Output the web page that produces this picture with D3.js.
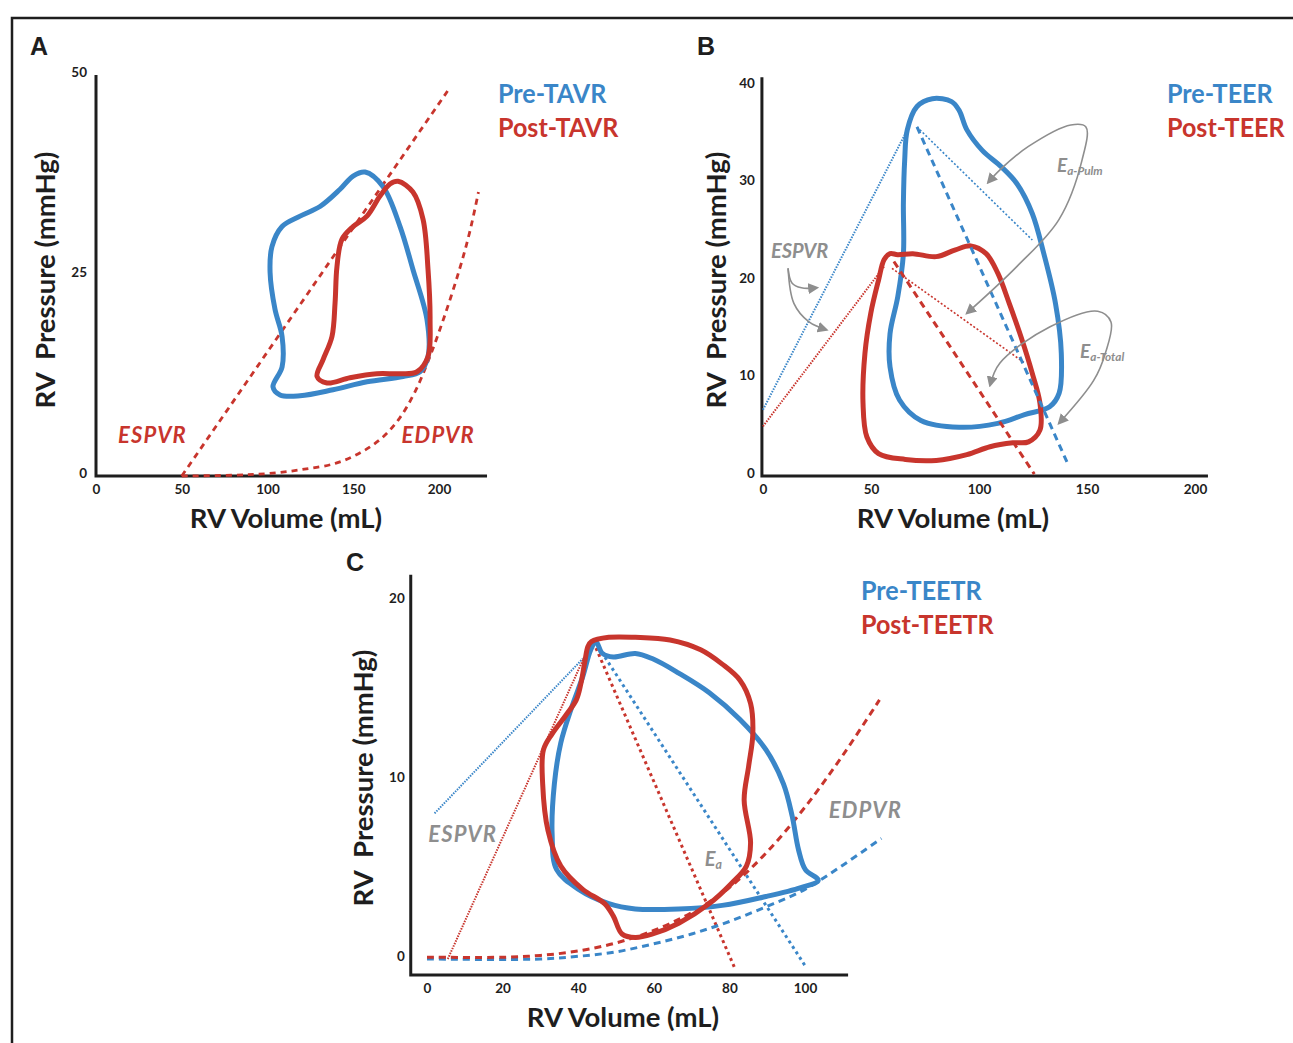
<!DOCTYPE html>
<html>
<head>
<meta charset="utf-8">
<script src="https://cdn.jsdelivr.net/npm/d3@7"></script>
<style>
  body { margin: 0; background: #fff; }
  svg text { font-family: Lato, "Open Sans", sans-serif; }
</style>
</head>
<body>
<svg id="fig"></svg>
<script>
const w = 1293, h = 1043;
const blue = '#3a86c8', red = '#c8352d', gray = '#8e8e8e', ink = '#1e1e1e';

// ---------- panel A : TAVR ----------
const aTicksX = [0, 50, 100, 150, 200];
const aTicksY = [0, 25, 50];
const aLegend = ['Pre-TAVR', 'Post-TAVR'];
const aPre = [[156.9,37.9],[167.3,36.1],[177.3,31.1],[184.8,25.75],[193.0,19.5],[193.6,14.9],[188.9,13.0],[179.0,12.4],
  [158.0,11.75],[138.2,10.75],[119.0,10.0],[107.3,10.1],[103.2,11.1],[108.5,13.6],[108.5,17.4],[104.4,20.75],
  [101.5,25.4],[102.6,28.6],[108.5,31.1],[119.0,32.4],[130.6,33.6],[142.3,35.75],[149.9,37.4]];
const aPost = [[176.1,36.75],[184.8,35.4],[190.7,32.0],[193.6,25.75],[194.8,19.5],[193.6,14.9],[187.2,13.0],[177.3,12.75],
  [163.8,12.75],[148.1,12.25],[134.7,11.6],[128.9,12.4],[132.4,14.5],[137.6,17.4],[139.4,21.6],[140.5,26.1],
  [143.4,29.5],[149.9,31.1],[158.0,32.4],[165.6,34.9],[171.4,36.4]];
const aEspvr = [[50,0],[205,48]];
const aEdpvr = [[50,0],[80,0.1],[100,0.3],[120,0.8],[140,1.6],[155,3.0],[167,4.8],[177,7.2],[186,10.5],[194,14.5],[203,19.8],[212,25.8],[218,30.5],[223,35.4]];

// ---------- panel B : TEER ----------
const bTicksX = [0, 50, 100, 150, 200];
const bTicksY = [0, 10, 20, 30, 40];
const bLegend = ['Pre-TEER', 'Post-TEER'];
const bPre = [[66.8,35.5],[71.3,37.9],[78.4,38.7],[87.3,38.4],[90.8,37.5],[94.4,35.5],[101.5,33.4],[110.4,31.7],
  [117.5,30.0],[124.7,26.9],[130.0,22.8],[135.4,17.7],[138.1,12.6],[137.1,8.5],[132.7,7.1],[121.1,6.3],
  [108.7,5.4],[90.8,5.0],[73.1,5.7],[63.2,7.8],[58.8,11.2],[58.8,14.6],[62.4,18.4],[65.0,22.8],[65.0,28.0],[65.6,32.4]];
const bPost = [[58.8,22.8],[62.4,22.7],[69.4,22.8],[80.2,22.5],[89.1,23.2],[96.2,23.6],[103.3,22.8],[108.7,20.8],
  [114.0,17.7],[119.4,14.3],[124.7,10.5],[128.2,7.5],[128.2,4.7],[122.9,3.5],[115.7,3.4],[105.1,3.0],
  [94.4,2.2],[80.2,1.6],[65.9,1.7],[53.5,2.3],[48.1,4.0],[46.3,7.5],[47.2,12.6],[49.9,16.7],[53.5,20.1],[56.1,22.2]];
const bPreEspvr = [[0,6.8],[66.8,35.5]];
const bPostEspvr = [[0,5.1],[56.1,21.5]];
const bPreEaTotal = [[71.3,35.8],[141.6,1.0]];
const bPreEaPulm = [[71.3,35.8],[124.7,24.2]];
const bPostEaTotal = [[60.6,22.0],[125.6,0.2]];
const bPostEaPulm = [[59.7,21.3],[121.1,11.6]];
const bEspvrArrows = [
  [[11.6,21.3],[13.4,19.8],[17.8,19.3],[25.0,19.3]],
  [[11.6,21.3],[14.3,17.7],[21.3,15.8],[29.4,15.0]]
];
const bPulmArc = [[104.2,30.1],[109.7,31.4],[122.9,33.8],[142.5,36.0],[149.5,35.8],[147.7,32.4],[137.0,26.3],[117.6,21.5],[94.4,16.7]];
const bTotalArc = [[105.1,9.3],[109.7,11.6],[132.9,15.3],[155.0,16.9],[161.1,15.8],[158.5,12.6],[153.1,9.8],[137.0,5.4]];

// ---------- panel C : TEETR ----------
const cTicksX = [0, 20, 40, 60, 80, 100];
const cTicksY = [0, 10, 20];
const cLegend = ['Pre-TEETR', 'Post-TEETR'];
const cPre = [[44.7,17.76],[46.4,17.1],[49.3,16.9],[55.1,17.1],[59.7,16.8],[66.6,16.0],[74.7,14.9],[82.8,13.4],
  [89.7,11.7],[94.3,9.8],[96.6,8.0],[98.3,6.1],[100.1,5.0],[103.5,4.4],[98.9,4.0],[89.7,3.5],[78.1,3.0],
  [66.6,2.8],[55.1,2.8],[48.1,3.1],[40.1,3.9],[34.3,5.0],[33.1,7.0],[33.7,9.8],[35.4,12.1],[38.3,14.1],[41.2,15.8],[43.3,17.3]];
const cPost = [[43.5,17.76],[48.1,18.0],[55.1,18.0],[64.3,17.85],[72.4,17.3],[78.1,16.5],[82.8,15.6],[85.6,14.3],
  [86.2,12.6],[85.1,10.8],[83.9,8.9],[85.6,6.5],[84.5,5.2],[80.4,4.2],[74.7,3.1],[66.6,2.0],[59.7,1.4],
  [55.1,1.2],[51.6,1.4],[49.3,2.4],[47.0,3.1],[41.2,3.9],[35.4,5.2],[32.0,7.2],[30.6,9.8],[30.8,11.7],
  [33.1,12.6],[36.6,13.6],[39.5,14.5],[40.7,15.4],[41.8,16.7],[42.6,17.5]];
const cPreEspvr = [[2.0,8.15],[41.2,16.8]];
const cPostEspvr = [[5.5,0.0],[41.6,16.9]];
const cPreEa = [[45.2,17.5],[100.1,-0.4]];
const cPostEa = [[44.7,17.4],[81.6,-0.6]];
const cPostEdpvr = [[0,0.1],[20,0.1],[30,0.2],[40,0.45],[50,0.9],[60,1.6],[70,2.6],[80,4.0],[90,6.0],[100,8.5],[110,11.4],[119.7,14.5]];
const cPreEdpvr = [[0,0],[30,0],[40,0.15],[50,0.4],[60,0.85],[70,1.4],[80,2.1],[90,2.95],[100,3.9],[110,5.25],[120.2,6.75]];

const svg = d3.select('#fig').attr('width', w).attr('height', h);

// arrow head for the grey notes
svg.append('defs').append('marker')
  .attr('id', 'head')
  .attr('viewBox', '0 0 10 10')
  .attr('refX', 8).attr('refY', 5)
  .attr('markerWidth', 11).attr('markerHeight', 11)
  .attr('markerUnits', 'userSpaceOnUse')
  .attr('orient', 'auto-start-reverse')
  .append('path')
  .attr('d', 'M0,0 L10,5 L0,10 Z')
  .attr('fill', gray);

// figure frame
svg.append('path')
  .attr('d', `M12,${h} L12,18 L${w},18`)
  .attr('fill', 'none')
  .attr('stroke', ink)
  .attr('stroke-width', 2.5);

function makePanel(o) {
  const g = svg.append('g');
  const x = d3.scaleLinear().domain([0, d3.max(o.ticksX)]).range(o.xRange);
  const y = d3.scaleLinear().domain([0, d3.max(o.ticksY)]).range(o.yRange);

  // tick labels only, no tick marks
  const xg = g.append('g')
    .attr('transform', `translate(0, ${y(o.axisY)})`)
    .call(d3.axisBottom(x).tickValues(o.ticksX).tickSize(0).tickPadding(8));
  const yg = g.append('g')
    .attr('transform', `translate(${x(o.axisX)}, 0)`)
    .call(d3.axisLeft(y).tickValues(o.ticksY).tickSize(0).tickPadding(o.yPad));
  [xg, yg].forEach(a => {
    a.select('.domain').remove();
    a.selectAll('text').style('font-size', '13.5px').style('font-weight', 700).attr('fill', ink);
  });
  yg.selectAll('text').attr('dy', '0.1em');

  // axis lines
  g.append('path')
    .attr('d', `M${x(o.axisX)},${y(o.yTop)} L${x(o.axisX)},${y(o.axisY)} L${x(o.xEnd)},${y(o.axisY)}`)
    .attr('fill', 'none')
    .attr('stroke', ink)
    .attr('stroke-width', 3);

  g.append('text')
    .attr('x', o.letter[1]).attr('y', o.letter[2])
    .style('font-family', '"Liberation Sans", Arial, sans-serif')
    .style('font-weight', 700).style('font-size', '25px')
    .attr('fill', ink)
    .text(o.letter[0]);

  g.append('text')
    .attr('x', o.xTitle[0]).attr('y', o.xTitle[1])
    .attr('text-anchor', 'middle')
    .style('font-size', '27.5px').style('font-weight', 700)
    .attr('fill', ink)
    .text('RV Volume (mL)');

  g.append('text')
    .attr('transform', `translate(${o.yTitle[0]}, ${o.yTitle[1]}) rotate(-90)`)
    .attr('text-anchor', 'middle')
    .style('font-size', '27.5px').style('font-weight', 700)
    .style('white-space', 'pre')
    .attr('fill', ink)
    .text('RV  Pressure (mmHg)');

  g.selectAll('.legend')
    .data(o.legend)
    .join('text')
    .attr('class', 'legend')
    .attr('transform', (d, i) => `translate(${o.legendPos[0]}, ${o.legendPos[1] + i * 34}) scale(0.93, 1)`)
    .style('font-size', '27px').style('font-weight', 700)
    .attr('fill', (d, i) => i === 0 ? blue : red)
    .text(d => d);

  return { g, x, y };
}

function lineOf(p, curve) {
  return d3.line().x(d => p.x(d[0])).y(d => p.y(d[1])).curve(curve || d3.curveLinear);
}

function drawLine(p, data, color, width, dash, curve) {
  p.g.append('path')
    .datum(data)
    .attr('d', lineOf(p, curve))
    .attr('fill', 'none')
    .attr('stroke', color)
    .attr('stroke-width', width)
    .attr('stroke-dasharray', dash);
}

function drawLoop(p, data, color) {
  p.g.append('path')
    .datum(data)
    .attr('d', lineOf(p, d3.curveCatmullRomClosed.alpha(0.5)))
    .attr('fill', 'none')
    .attr('stroke', color)
    .attr('stroke-width', 5)
    .attr('stroke-linejoin', 'round');
}

function drawArrow(p, data, both) {
  p.g.append('path')
    .datum(data)
    .attr('d', lineOf(p, d3.curveCatmullRom.alpha(0.5)))
    .attr('fill', 'none')
    .attr('stroke', gray)
    .attr('stroke-width', 1.6)
    .attr('marker-end', 'url(#head)')
    .attr('marker-start', both ? 'url(#head)' : null);
}

function note(p, v, pr, color, main, sub, size, spacing) {
  const t = p.g.append('text')
    .attr('x', p.x(v)).attr('y', p.y(pr))
    .style('font-size', size + 'px').style('font-weight', 700).style('font-style', 'italic')
    .style('letter-spacing', (spacing || 0) + 'px')
    .attr('fill', color)
    .text(main);
  if (sub) {
    t.append('tspan')
      .attr('dy', 3)
      .style('font-size', (size * 0.62) + 'px')
      .text(sub);
  }
}

// ----- A -----
const pa = makePanel({
  ticksX: aTicksX, ticksY: aTicksY,
  xRange: [96, 439], yRange: [476, 75],
  axisX: 0, axisY: 0, yTop: 50, xEnd: 228, yPad: 9,
  letter: ['A', 30, 55], xTitle: [286, 528], yTitle: [55, 280],
  legend: aLegend, legendPos: [498, 103]
});
drawLine(pa, aEspvr, red, 2.8, '6,5');
drawLine(pa, aEdpvr, red, 2.8, '6,5', d3.curveCatmullRom);
drawLoop(pa, aPre, blue);
drawLoop(pa, aPost, red);
note(pa, 12.8, 4.1, red, 'ESPVR', null, 22, 1.2);
note(pa, 178.2, 4.1, red, 'EDPVR', null, 22, 1.2);

// ----- B -----
const pb = makePanel({
  ticksX: bTicksX, ticksY: bTicksY,
  xRange: [763, 1195], yRange: [476, 86],
  axisX: -0.5, axisY: 0, yTop: 40.9, xEnd: 206, yPad: 7,
  letter: ['B', 697, 55], xTitle: [953, 528], yTitle: [726, 280],
  legend: bLegend, legendPos: [1167, 103]
});
drawLine(pb, bPreEspvr, blue, 2, '1.5,1.3');
drawLine(pb, bPostEspvr, red, 2, '1.5,1.3');
drawLoop(pb, bPre, blue);
drawLoop(pb, bPost, red);
drawLine(pb, bPreEaPulm, blue, 1.6, '2,2');
drawLine(pb, bPostEaPulm, red, 1.6, '2,2');
drawLine(pb, bPreEaTotal, blue, 3, '7,5');
drawLine(pb, bPostEaTotal, red, 3, '7,5');
bEspvrArrows.forEach(a => drawArrow(pb, a, false));
drawArrow(pb, bPulmArc, true);
drawArrow(pb, bTotalArc, true);
note(pb, 3.7, 22.4, gray, 'ESPVR', null, 20);
note(pb, 136.1, 31.2, gray, 'E', 'a-Pulm', 19);
note(pb, 146.8, 12.1, gray, 'E', 'a-Total', 19);

// ----- C -----
const pc = makePanel({
  ticksX: cTicksX, ticksY: cTicksY,
  xRange: [427, 805], yRange: [959, 601.6],
  axisX: -4.3, axisY: -0.9, yTop: 21.5, xEnd: 111.4, yPad: 6,
  letter: ['C', 346, 571], xTitle: [623, 1027], yTitle: [373, 778],
  legend: cLegend, legendPos: [861, 600]
});
drawLine(pc, cPreEspvr, blue, 2, '1.5,1.2');
drawLine(pc, cPostEspvr, red, 2, '1.5,1.2');
drawLine(pc, cPreEa, blue, 3, '3,3.5');
drawLine(pc, cPostEa, red, 3, '3,3.5');
drawLine(pc, cPreEdpvr, blue, 3, '7,5', d3.curveCatmullRom);
drawLine(pc, cPostEdpvr, red, 3, '7,5', d3.curveCatmullRom);
drawLoop(pc, cPre, blue);
drawLoop(pc, cPost, red);
note(pc, 0.3, 6.56, gray, 'ESPVR', null, 22, 1.2);
note(pc, 106.3, 7.9, gray, 'EDPVR', null, 22, 1.2);
note(pc, 73.5, 5.2, gray, 'E', 'a', 20);
</script>
</body>
</html>
